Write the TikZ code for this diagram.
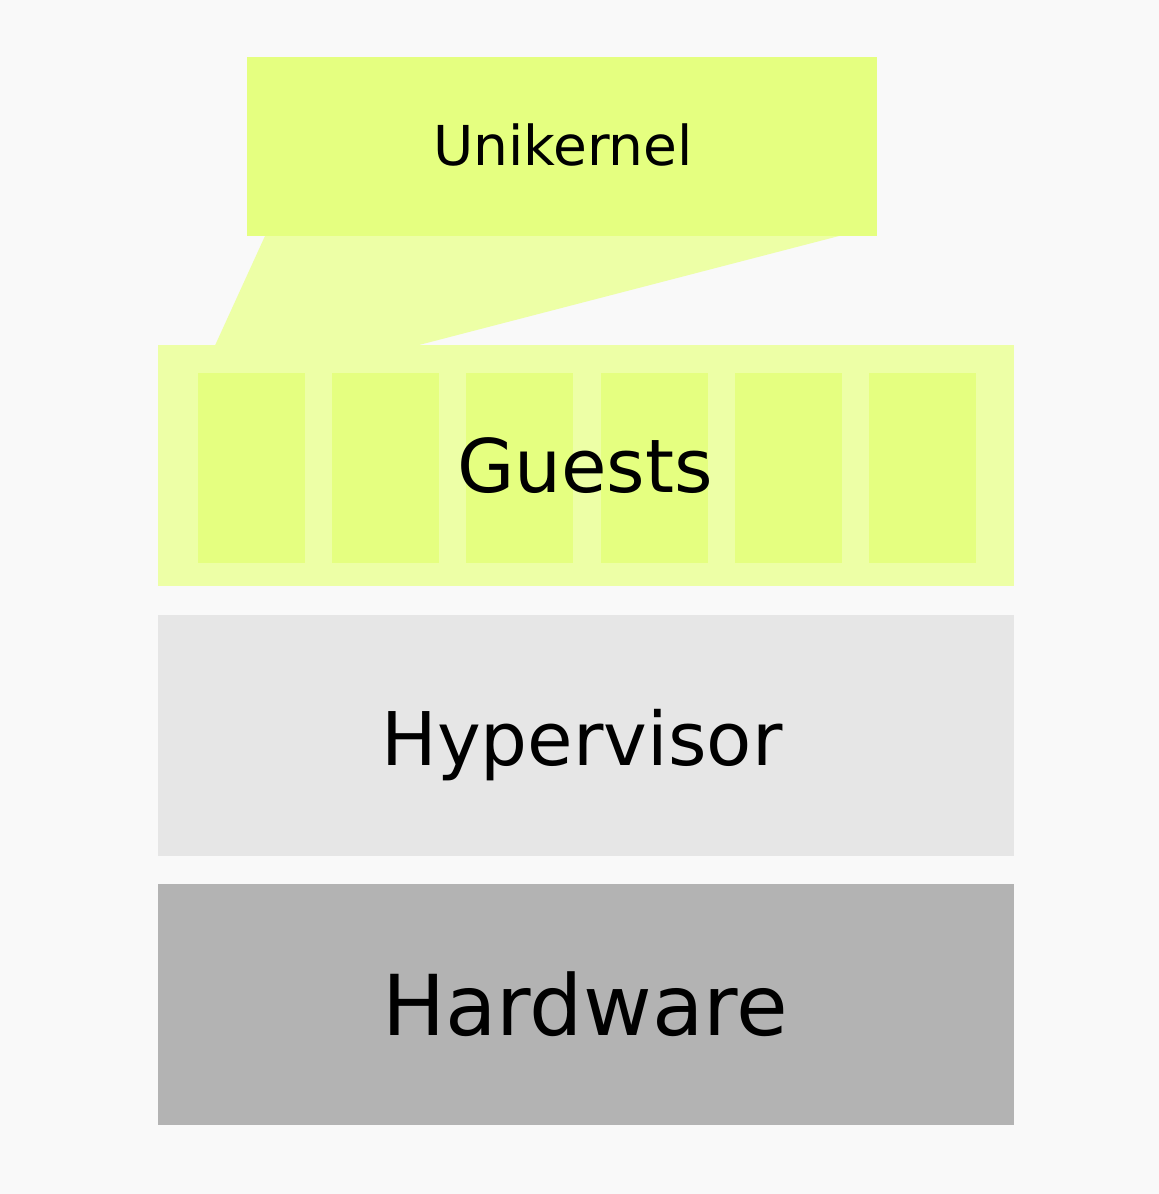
\documentclass[tikz,border=0pt]{standalone}
\usepackage{fontspec}
\setmainfont{DejaVu Sans}
\definecolor{bgc}{HTML}{F9F9F9}
\definecolor{unic}{HTML}{E5FF80}
\definecolor{guestc}{HTML}{EDFFA6}
\definecolor{hypc}{HTML}{E6E6E6}
\definecolor{hwc}{HTML}{B3B3B3}
\tikzset{
  layer/.style={rectangle, inner sep=0pt, outer sep=0pt, draw=none, minimum width=856pt, minimum height=241pt},
  slot/.style={rectangle, inner sep=0pt, outer sep=0pt, draw=none, fill=unic, minimum width=107pt, minimum height=190pt},
  lbl/.style={inner sep=0pt, outer sep=0pt, anchor=base, text=black}
}
\begin{document}
\begin{tikzpicture}[x=1pt,y=-1pt]
\fill[bgc] (0,0) rectangle (1159,1194);
\useasboundingbox (0,0) rectangle (1159,1194);
% link between unikernel and a guest
\fill[guestc] (265,236) -- (839,236) -- (417,345.5) -- (215,345.5) -- cycle;
\node[layer, fill=unic, minimum width=630pt, minimum height=179pt] (uni) at (562,146.5) {};
\node[layer, fill=guestc] (guests) at (586,465.5) {};
\foreach \i/\x in {1/251.5,2/385.5,3/519.5,4/654.5,5/788.5,6/922.5}{
  \node[slot] (g\i) at (\x,468) {};
}
\node[layer, fill=hypc] (hyp) at (586,735) {};
\node[layer, fill=hwc] (hw) at (586,1004) {};
\node[lbl, font=\fontsize{55}{60}\selectfont] (tuni) at (563,165) {Unikernel};
\node[lbl, font=\fontsize{74}{80}\selectfont] (tguests) at (585,492) {Guests};
\node[lbl, font=\fontsize{74}{80}\selectfont] (thyp) at (582,765) {Hypervisor};
\node[lbl, font=\fontsize{84}{90}\selectfont] (thw) at (585,1035) {Hardware};
\end{tikzpicture}
\end{document}
